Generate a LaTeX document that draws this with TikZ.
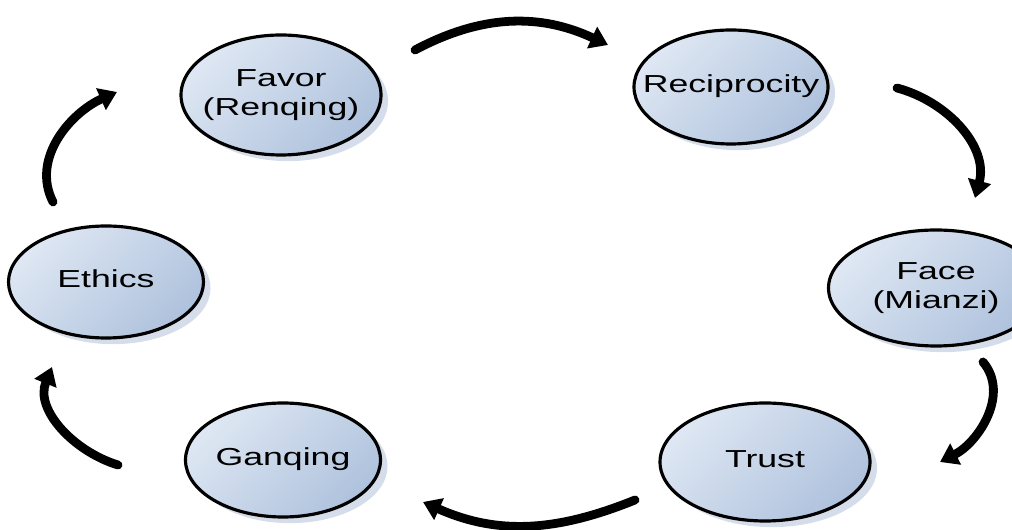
\documentclass[tikz,border=0pt]{standalone}
\usepackage{fontspec}
\setmainfont{Liberation Sans}
\usetikzlibrary{shapes.geometric,arrows.meta,shadows}
\definecolor{elllight}{HTML}{DEE7F3}
\definecolor{elldark}{HTML}{AFC2DD}
\definecolor{shadowcol}{HTML}{D5DDEA}
\newcommand{\wtxt}[1]{\makebox[0pt]{\scalebox{1.45}[1]{\begin{tabular}{@{}c@{}}#1\end{tabular}}}}
\begin{document}
\begin{tikzpicture}[
  bubble/.style={ellipse, draw=black, line width=1.8pt, inner sep=0pt,
    top color=elllight, bottom color=elldark, shading angle=45,
    drop shadow={shadow xshift=4pt, shadow yshift=-3.5pt, fill=shadowcol, opacity=1},
    font=\fontsize{14}{16.6}\selectfont},
  flow/.style={line width=5pt, line cap=round, -{Triangle[length=10pt,width=13pt]}}]
\useasboundingbox (0,0) rectangle (20.24,10.6);

% the six ellipses
\node[bubble, minimum width=4.00cm, minimum height=2.40cm] (fav) at (5.62,8.70) {\wtxt{Favor\\(Renqing)}};
\node[bubble, minimum width=3.88cm, minimum height=2.28cm] (rec) at (14.62,8.86) {\wtxt{Reciprocity}};
\node[bubble, minimum width=4.30cm, minimum height=2.32cm] (face) at (18.72,4.84) {\wtxt{Face\\(Mianzi)}};
\node[bubble, minimum width=4.20cm, minimum height=2.36cm] (trust) at (15.30,1.36) {\wtxt{Trust}};
\node[bubble, minimum width=3.90cm, minimum height=2.28cm] (gan) at (5.66,1.40) {\wtxt{Ganqing}};
\node[bubble, minimum width=3.90cm, minimum height=2.24cm] (eth) at (2.12,4.96) {\wtxt{Ethics}};

% arrow ends
\coordinate (a1s) at (8.30,9.60);  \coordinate (a1e) at (12.16,9.70);
\coordinate (a2s) at (17.94,8.84); \coordinate (a2e) at (19.50,6.64);
\coordinate (a3s) at (19.66,3.36); \coordinate (a3e) at (18.80,1.36);
\coordinate (a4s) at (12.70,0.60); \coordinate (a4e) at (8.46,0.56);
\coordinate (a5s) at (2.36,1.30);  \coordinate (a5e) at (1.04,3.26);
\coordinate (a6s) at (1.06,6.56);  \coordinate (a6e) at (2.34,8.76);

% the cycle
\draw[flow] (a1s) to[out=28, in=155] (a1e);
\draw[flow] (a2s) to[out=-15, in=75] (a2e);
\draw[flow] (a3s) to[out=-50, in=27] (a3e);
\draw[flow] (a4s) to[out=202, in=-24] (a4e);
\draw[flow] (a5s) to[out=163, in=-112] (a5e);
\draw[flow] (a6s) to[out=117, in=204] (a6e);
\end{tikzpicture}
\end{document}
